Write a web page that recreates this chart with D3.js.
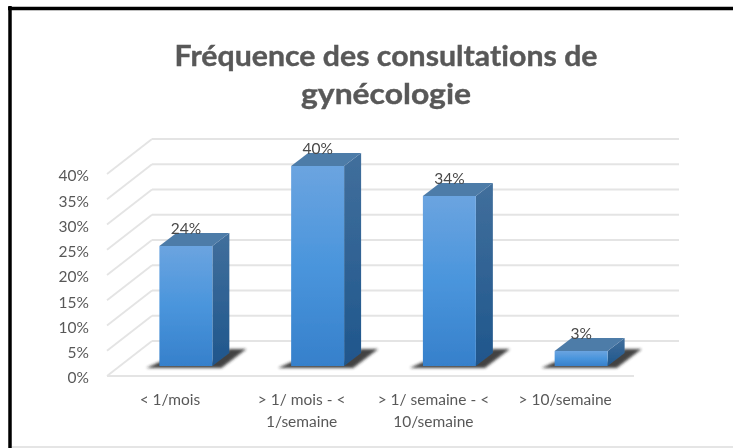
<!DOCTYPE html>
<html>
<head>
<meta charset="utf-8">
<script src="https://cdn.jsdelivr.net/npm/d3@7"></script>
<style>
  html, body { margin: 0; padding: 0; background: #fff; }
  svg { display: block; }
  text { font-family: Lato, "Noto Sans", sans-serif; fill: #595959; font-variant-ligatures: none; }
</style>
</head>
<body>
<script>
"use strict";

const categories = ["< 1/mois", "> 1/ mois - <|1/semaine", "> 1/ semaine - <|10/semaine", "> 10/semaine"];
const values = [24, 40, 34, 3];
const yTicks = [0, 5, 10, 15, 20, 25, 30, 35, 40];
const titleLines = ["Fréquence des consultations de", "gynécologie"];

const width = 733, height = 448;

// depth of the 3d box and of the whole floor
const barDx = 17, barDy = 13;
const wallDx = 45, wallDy = 35;

const x = d3.scaleBand().domain(categories).range([107, 634]).paddingInner(0.598).paddingOuter(0.299);
const yFront = d3.scaleLinear().domain([0, 40]).range([376, 174]);
const yBack = d3.scaleLinear().domain([0, 40]).range([yFront(0) - wallDy, yFront(40) - wallDy]);
// bars stand a little behind the front edge of the floor
const yBar = d3.scaleLinear().domain([0, 40]).range([366, 166]);

const svg = d3.select("body").append("svg")
    .attr("width", width)
    .attr("height", height);

const defs = svg.append("defs");

function gradient(id, stops) {
  const g = defs.append("linearGradient").attr("id", id)
      .attr("x1", 0).attr("y1", 0).attr("x2", 0).attr("y2", 1);
  stops.forEach(s => g.append("stop").attr("offset", s[0]).attr("stop-color", s[1]));
}
gradient("front", [[0, "#6ba4e0"], [0.5, "#4a95dc"], [1, "#3680cb"]]);
gradient("side", [[0, "#416f9c"], [1, "#1f568c"]]);

defs.append("filter").attr("id", "soft").attr("x", "-5%").attr("y", "-5%").attr("width", "110%").attr("height", "110%")
  .append("feGaussianBlur").attr("stdDeviation", 0.55);
defs.append("filter").attr("id", "shadowBlur").attr("x", "-20%").attr("y", "-30%").attr("width", "140%").attr("height", "160%")
  .append("feGaussianBlur").attr("stdDeviation", 1.6);

const root = svg.append("g").attr("filter", "url(#soft)");

// frame of the pasted picture
root.append("rect").attr("width", width).attr("height", height).attr("fill", "#fff");
root.append("line").attr("x1", 10).attr("x2", 10).attr("y1", 6).attr("y2", height)
    .attr("stroke", "#000").attr("stroke-width", 3.5);
root.append("line").attr("x1", 8).attr("x2", width).attr("y1", 8.5).attr("y2", 8.5)
    .attr("stroke", "#000").attr("stroke-width", 3.5);
root.append("line").attr("x1", 12).attr("x2", width).attr("y1", 447).attr("y2", 447)
    .attr("stroke", "#dcdcdc").attr("stroke-width", 1.5);

// title
root.selectAll(".title").data(titleLines).join("text")
    .attr("class", "title")
    .attr("x", 386)
    .attr("y", (d, i) => 66 + i * 38)
    .attr("text-anchor", "middle")
    .attr("font-size", 29)
    .attr("font-weight", 700)
    .attr("stroke", "#595959")
    .attr("stroke-width", 0.4)
    .attr("textLength", d => d.length > 20 ? 423 : 170)
    .attr("lengthAdjust", "spacingAndGlyphs")
    .text(d => d);

// walls
const grid = root.append("g").attr("stroke", "#e4e4e4").attr("stroke-width", 1.8).attr("fill", "none");
grid.selectAll(".back").data(yTicks).join("line")
    .attr("class", "back")
    .attr("x1", x.range()[0] + wallDx).attr("x2", x.range()[1] + wallDx)
    .attr("y1", d => yBack(d)).attr("y2", d => yBack(d));
grid.selectAll(".diag").data(yTicks).join("line")
    .attr("class", "diag")
    .attr("x1", x.range()[0]).attr("x2", x.range()[0] + wallDx)
    .attr("y1", d => yFront(d)).attr("y2", d => yBack(d));
grid.append("line")
    .attr("x1", x.range()[0]).attr("x2", x.range()[1])
    .attr("y1", yFront(0)).attr("y2", yFront(0));

// y axis
const yAxis = root.append("g")
    .attr("transform", "translate(94,2)")
    .call(d3.axisLeft(yFront).tickValues(yTicks).tickSize(0).tickPadding(5).tickFormat(d => d + "%"));
yAxis.select(".domain").remove();
yAxis.selectAll("text").attr("font-size", 15.5).attr("font-family", null).style("fill", "#595959");

// x axis, labels broken on two lines
const xAxis = root.append("g")
    .attr("transform", "translate(-3,376)")
    .call(d3.axisBottom(x).tickSize(0));
xAxis.select(".domain").remove();
xAxis.selectAll("text")
    .attr("font-size", 15.5)
    .attr("font-family", null)
    .style("fill", "#595959")
    .attr("y", 0)
    .attr("dy", null)
    .each(function(d) {
      const t = d3.select(this).text(null);
      d.split("|").forEach((part, i) => {
        t.append("tspan").attr("x", 0).attr("y", 29 + i * 22).text(part);
      });
    });

// bars
const bars = root.selectAll(".bar").data(values).join("g")
    .attr("class", "bar")
    .attr("transform", (d, i) => "translate(" + (x(categories[i]) + wallDx - barDx - 15) + ",0)");

const bw = x.bandwidth();
const base = yBar(0);

bars.append("path")
    .attr("filter", "url(#shadowBlur)")
    .attr("fill", "#222")
    .attr("opacity", 0.85)
    .attr("d", "M" + [[-13, base + 2], [bw + 9, base + 2], [bw + 34, base - 17], [bw + 17, base - 17], [bw, base - 4], [0, base - 4]].join("L") + "Z");

bars.append("path")
    .attr("fill", "url(#side)")
    .attr("d", d => {
      const t = yBar(d);
      return "M" + [[bw, t], [bw + barDx, t - barDy], [bw + barDx, base - barDy], [bw, base]].join("L") + "Z";
    });

bars.append("path")
    .attr("fill", "#4e7ba8")
    .attr("d", d => {
      const t = yBar(d);
      return "M" + [[0, t], [barDx, t - barDy], [bw + barDx, t - barDy], [bw, t]].join("L") + "Z";
    });

bars.append("rect")
    .attr("fill", "url(#front)")
    .attr("x", 0)
    .attr("width", bw)
    .attr("y", d => yBar(d))
    .attr("height", d => yBar(0) - yBar(d));

bars.append("text")
    .attr("x", bw / 2)
    .attr("y", d => yBar(d) - 12)
    .attr("text-anchor", "middle")
    .attr("font-size", 15.5)
    .style("fill", "#484848")
    .text(d => d + "%");
</script>
</body>
</html>
